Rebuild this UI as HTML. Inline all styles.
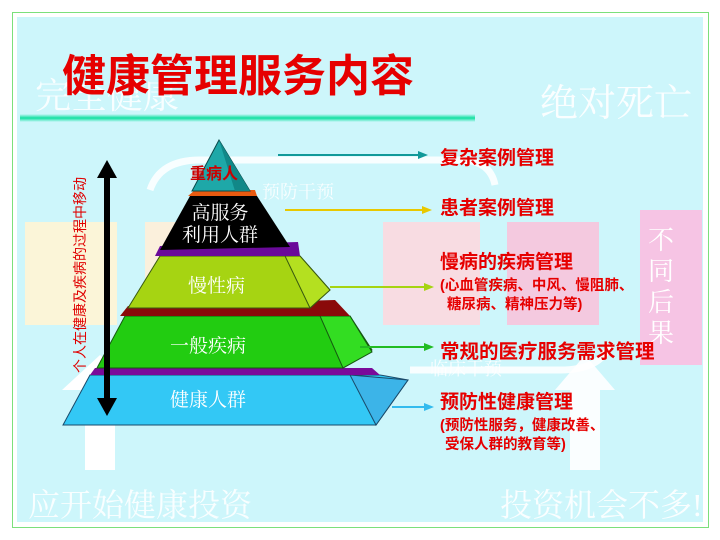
<!DOCTYPE html>
<html><head><meta charset="utf-8"><style>
html,body{margin:0;padding:0;background:#fff;}
body{width:720px;height:540px;position:relative;overflow:hidden;font-family:"Liberation Sans","Noto Sans CJK SC",sans-serif;}
.t{position:absolute;white-space:nowrap;}
.r{font-weight:bold;color:#e60000;font-family:"Liberation Sans","Noto Sans CJK SC",sans-serif;}
</style></head><body>
<div style="position:absolute;left:12px;top:12px;width:695px;height:514px;border:1px solid #7be07b;"></div>
<div style="position:absolute;left:17px;top:17px;width:686px;height:505px;background:#cdf6fb;"></div>
<svg width="720" height="540" style="position:absolute;left:0;top:0">
<defs>
<linearGradient id="g" x1="0" y1="0" x2="0" y2="1"><stop offset="0" stop-color="#cdf6fb"/><stop offset=".5" stop-color="#11e0a0"/><stop offset="1" stop-color="#cdf6fb"/></linearGradient>
</defs>
<rect x="20" y="114" width="455" height="8" fill="url(#g)"/>
<rect x="25" y="222" width="92" height="103" fill="#fbf5d8"/>
<rect x="145" y="222" width="95" height="103" fill="#fbf0dc"/>
<rect x="383" y="222" width="97" height="103" fill="#f8dce2"/>
<rect x="507" y="222" width="92" height="103" fill="#f4c9df"/>
<rect x="640" y="210" width="62" height="155" fill="#f6c4e4"/>
<path d="M150,190 Q160,160 200,160 L460,160 Q490,160 495,185" stroke="#fff" stroke-width="7" fill="none" opacity=".85"/>
<path d="M410,370 L560,370 Q600,370 610,345" stroke="#fff" stroke-width="7" fill="none" opacity=".85"/>
<polygon points="62,390 100,355 138,390 115,390 115,470 85,470 85,390" fill="#fff"/>
<polygon points="555,390 585,355 615,390 600,390 600,470 570,470 570,390" fill="#fff" opacity=".9"/>
<polygon points="63,425 90,375 380,375 408,380 376,425" fill="#33c8f5" stroke="#1a4a6a" stroke-width="1"/>
<polygon points="350,375 408,380 376,425" fill="#3cb4e8" stroke="#1a4a6a" stroke-width="1"/>
<polygon points="90,375 95,368 372,368 380,375" fill="#7a0a9a"/>
<polygon points="97,368 125,316 350,316 372,350 343,368" fill="#22cc11" stroke="#155a10" stroke-width="1"/>
<polygon points="320,316 350,316 372,352 343,368" fill="#33dd22" stroke="#155a10" stroke-width="1"/>
<polygon points="120,316 128,306 335,300 350,316" fill="#8a0a0a"/>
<polygon points="128,308 160,256 300,256 330,290 310,308" fill="#a6d412" stroke="#3a5a10" stroke-width="1"/>
<polygon points="285,256 300,256 330,290 310,308" fill="#b4e020" stroke="#3a5a10" stroke-width="1"/>
<polygon points="155,256 160,246 298,242 300,256" fill="#6a0a9a"/>
<polygon points="160,250 190,196 257,196 290,247" fill="#000"/>
<polygon points="188,196 195,190 255,190 257,196" fill="#e85a10"/>
<polygon points="219,140 192,191 250,191" fill="#1ea8a8" stroke="#0a4a4a" stroke-width="1"/>
<polygon points="219,140 235,191 250,191" fill="#118888"/>
<g stroke-width="2">
<line x1="278" y1="155" x2="420" y2="155" stroke="#119999"/><polygon points="418,151 428,155 418,159" fill="#119999"/>
<line x1="285" y1="210" x2="424" y2="210" stroke="#e8c800"/><polygon points="422,206 432,210 422,214" fill="#e8c800"/>
<line x1="330" y1="287" x2="426" y2="287" stroke="#a6d412"/><polygon points="424,283 434,287 424,291" fill="#a6d412"/>
<line x1="360" y1="347" x2="426" y2="347" stroke="#22bb22"/><polygon points="424,343 434,347 424,351" fill="#22bb22"/>
<line x1="392" y1="407" x2="426" y2="407" stroke="#33bbee"/><polygon points="424,403 434,407 424,411" fill="#33bbee"/>
</g>
<line x1="107" y1="175" x2="107" y2="402" stroke="#000" stroke-width="6"/>
<polygon points="97,178 107,160 117,178" fill="#000"/>
<polygon points="97,398 107,416 117,398" fill="#000"/>
</svg>
<div class="t" style="left:35px;top:68px;font:36px 'Liberation Serif','Noto Serif CJK SC',serif;color:rgba(255,255,255,.85)">完全健康</div>
<div class="t" style="left:540px;top:72px;font:38px 'Liberation Serif','Noto Serif CJK SC',serif;color:rgba(255,255,255,.9)">绝对死亡</div>
<div class="t" style="left:28px;top:480px;font:32px 'Liberation Serif','Noto Serif CJK SC',serif;color:rgba(255,255,255,.85)">应开始健康投资</div>
<div class="t" style="left:500px;top:480px;font:32px 'Liberation Serif','Noto Serif CJK SC',serif;color:rgba(255,255,255,.9)">投资机会不多!</div>
<div class="t" style="left:262px;top:178px;font:18px 'Liberation Serif','Noto Serif CJK SC',serif;color:rgba(255,255,255,.85)">预防干预</div>
<div class="t" style="left:430px;top:355px;font:18px 'Liberation Serif','Noto Serif CJK SC',serif;color:rgba(255,255,255,.85)">临床干预</div>
<div class="t" style="left:648px;top:225px;width:30px;font:26px/31px 'Liberation Serif','Noto Serif CJK SC',serif;color:#fff;white-space:normal">不同后果</div>
<div class="t" style="left:62px;top:40px;font:bold 44px 'Liberation Sans','Noto Sans CJK SC',sans-serif;color:#e60000">健康管理服务内容</div>
<div class="t" style="left:190px;top:160px;font:bold 16px 'Liberation Sans','Noto Sans CJK SC',sans-serif;color:#cc0000">重病人</div>
<div class="t" style="left:175px;top:203px;width:90px;text-align:center;font:19px/22px 'Liberation Serif','Noto Serif CJK SC',serif;color:#fff">高服务<br>利用人群</div>
<div class="t" style="left:188px;top:271px;font:19px 'Liberation Serif','Noto Serif CJK SC',serif;color:#fff">慢性病</div>
<div class="t" style="left:170px;top:331px;font:19px 'Liberation Serif','Noto Serif CJK SC',serif;color:#fff">一般疾病</div>
<div class="t" style="left:170px;top:385px;font:19px 'Liberation Serif','Noto Serif CJK SC',serif;color:#fff">健康人群</div>
<div class="t" style="left:-30px;top:265px;width:220px;text-align:center;transform:rotate(-90deg);font:14px 'Liberation Sans','Noto Sans CJK SC',sans-serif;color:#e00000">个人在健康及疾病的过程中移动</div>
<div class="t r" style="left:440px;top:143px;font-size:19px">复杂案例管理</div>
<div class="t r" style="left:440px;top:193px;font-size:19px">患者案例管理</div>
<div class="t r" style="left:440px;top:247px;font-size:19px">慢病的疾病管理</div>
<div class="t r" style="left:440px;top:274px;font-size:14.5px">(心血管疾病、中风、慢阻肺、</div>
<div class="t r" style="left:447px;top:293px;font-size:14.5px">糖尿病、精神压力等)</div>
<div class="t r" style="left:440px;top:335px;font-size:19.5px">常规的医疗服务需求管理</div>
<div class="t r" style="left:440px;top:387px;font-size:19px">预防性健康管理</div>
<div class="t r" style="left:440px;top:414px;font-size:14.5px">(预防性服务，健康改善、</div>
<div class="t r" style="left:445px;top:433px;font-size:14.5px">受保人群的教育等)</div>
</body></html>
